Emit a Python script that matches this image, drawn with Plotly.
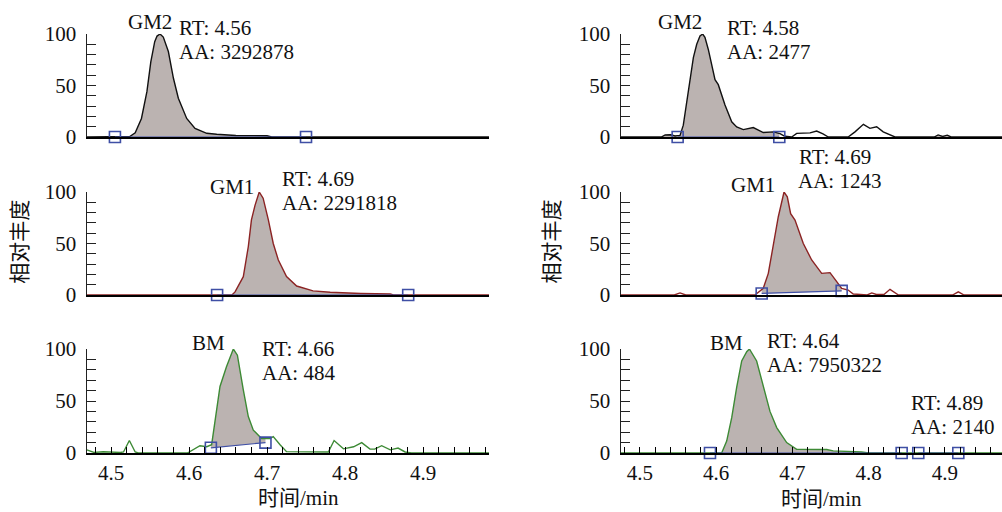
import numpy as np
import plotly.graph_objects as go

W, H = 1002, 512

# ---------------- data (x: retention time / min, y: relative abundance %) ----------------
# Left column
lt_x = [4.469, 4.52, 4.524, 4.531, 4.539, 4.546, 4.551, 4.556, 4.559, 4.5628, 4.567, 4.5735, 4.580,
        4.5863, 4.597, 4.6077, 4.6227, 4.6355, 4.66, 4.70, 4.706, 4.985]
lt_y = [0, 0, 0.5, 4, 18, 44, 73, 92.5, 98, 100, 97, 83, 57, 37.6, 18, 8.4, 3.6, 2.6, 1.5, 1.2, 0, 0]
lt_mx = [4.505, 4.75]
lt_my = [0, 0]

lm_x = [4.469, 4.655, 4.659, 4.6696, 4.676, 4.680, 4.6846, 4.690, 4.695, 4.7017, 4.708, 4.7145,
        4.725, 4.738, 4.759, 4.781, 4.82, 4.858, 4.862, 4.985]
lm_y = [0, 0, 3, 17.8, 47, 73, 87, 100, 94, 73, 50, 34, 18, 8.7, 4, 2.6, 1.5, 1, 0, 0]
lm_mx = [4.636, 4.881]
lm_my = [0, 0]

lb_x = [4.469, 4.474, 4.478, 4.49, 4.50, 4.512, 4.516, 4.5235, 4.531, 4.535, 4.598, 4.605, 4.614,
        4.6227, 4.629, 4.6397, 4.648, 4.6568, 4.662, 4.6696, 4.676, 4.6824, 4.693, 4.7038, 4.708,
        4.7167, 4.725, 4.7786, 4.786, 4.798, 4.811, 4.8214, 4.832, 4.838, 4.847, 4.858, 4.868,
        4.877, 4.885, 4.985]
lb_y = [3, 2, 0.6, 1.2, 0.8, 0.5, 1, 12, 1, 0, 0, 3, 7, 6, 8, 64, 83, 100, 94, 60.6, 35, 22, 14,
        14, 15.7, 8, 1.3, 1, 12, 4, 6, 10, 3.7, 3.7, 7, 3, 4.7, 1, 0, 0]
lb_mx = [4.628, 4.698]
lb_my = [5, 10]

# Right column
rt_x = [4.4747, 4.528, 4.533, 4.540, 4.546, 4.549, 4.5525, 4.5568, 4.5634, 4.570, 4.5744, 4.5787,
        4.5822, 4.5852, 4.5896, 4.5984, 4.6027, 4.6115, 4.6203, 4.6268, 4.6355, 4.6486, 4.6617,
        4.675, 4.6836, 4.690, 4.6990, 4.7055, 4.723, 4.7317, 4.74, 4.747, 4.773, 4.782, 4.793,
        4.8016, 4.8104, 4.819, 4.8344, 4.886, 4.891, 4.897, 4.903, 4.908, 4.913, 4.9748]
rt_y = [0, 0, 2, 2.2, 1, 1.5, 1.6, 11.5, 44, 77, 90, 98, 100, 96.7, 85, 55.7, 50.8, 31, 14.8, 9.8,
        7.2, 9.2, 4.3, 5, 3.3, 0.7, 0, 3.5, 4, 5.8, 3, 0, 0, 5, 12.3, 8.4, 10, 5, 0, 0, 2, 0.5, 1.8,
        0, 0, 0]
rt_mx = [4.5494, 4.6827]
rt_my = [0, 0]
rt_minor_fills = [(4.528, 4.548), (4.886, 4.913)]

rm_x = [4.4747, 4.545, 4.5525, 4.560, 4.6508, 4.6617, 4.6683, 4.6748, 4.6814, 4.6889, 4.6932,
        4.6976, 4.7033, 4.7142, 4.7252, 4.7383, 4.7492, 4.758, 4.7645, 4.773, 4.7797, 4.798, 4.804,
        4.81, 4.82, 4.8279, 4.839, 4.91, 4.9175, 4.925, 4.9748]
rm_y = [0, 0, 2, 0, 0, 6.5, 21, 50, 76, 100, 95.4, 79, 72.8, 50, 34, 21, 21.7, 13, 6.5, 4.8, 1, 0,
        2, 0.5, 0.5, 5.5, 0, 0, 3, 0, 0]
rm_mx = [4.6596, 4.7645]
rm_my = [1.5, 4]

rb_x = [4.4747, 4.6071, 4.6137, 4.6203, 4.6268, 4.6334, 4.640, 4.6435, 4.653, 4.6617, 4.6705,
        4.6793, 4.6924, 4.7055, 4.7449, 4.7535, 4.7907, 4.80, 4.9748]
rb_y = [0, 0, 11.5, 34, 63, 88.5, 97.4, 100, 88.5, 63, 40, 24.4, 10, 3.5, 3.4, 2, 1, 0, 0]
rb_mx = [4.5918, 4.8432, 4.865, 4.9175]
rb_my = [0, 0, 0, 0]

x_tick_labels = ["4.5", "4.6", "4.7", "4.8", "4.9"]
y_tick_labels = ["0", "50", "100"]

# ---------------- styling ----------------
FONT = "Liberation Serif, Noto Sans CJK SC, serif"
FILL = "#bbb3b1"
BLUE = "#3f4fa5"
COLORS = {"GM2": "#111111", "GM1": "#8b2323", "BM": "#3d8a35"}
FS = 21

# pixel layout: columns (left px, right px, x-range), rows (px of 100, px of 0)
cols = [dict(l=86.7, r=489.0, rng=[4.4688, 4.9846]),
        dict(l=620.7, r=1002.0, rng=[4.4747, 4.9748])]
rows = [(34, 137), (192, 295), (349, 453)]

panels = [
    dict(c=0, r=0, name="GM2", x=lt_x, y=lt_y, mx=lt_mx, my=lt_my, extra=[]),
    dict(c=0, r=1, name="GM1", x=lm_x, y=lm_y, mx=lm_mx, my=lm_my, extra=[]),
    dict(c=0, r=2, name="BM", x=lb_x, y=lb_y, mx=lb_mx, my=lb_my, extra=[]),
    dict(c=1, r=0, name="GM2", x=rt_x, y=rt_y, mx=rt_mx, my=rt_my, extra=rt_minor_fills),
    dict(c=1, r=1, name="GM1", x=rm_x, y=rm_y, mx=rm_mx, my=rm_my, extra=[]),
    dict(c=1, r=2, name="BM", x=rb_x, y=rb_y, mx=rb_mx, my=rb_my, extra=[]),
]


def region_polygon(x, y, x0, x1, b0, b1):
    x = np.asarray(x, float)
    y = np.asarray(y, float)
    inside = (x > x0) & (x < x1)
    px = [x0] + list(x[inside]) + [x1, x1, x0]
    py = [float(np.interp(x0, x, y))] + list(y[inside]) + [float(np.interp(x1, x, y)), b1, b0]
    return px, py


fig = go.Figure()
layout = {}
for i, p in enumerate(panels, start=1):
    sfx = "" if i == 1 else str(i)
    xa, ya = "x" + sfx, "y" + sfx
    col = cols[p["c"]]
    top, bot = rows[p["r"]]
    bottom_row = p["r"] == 2
    color = COLORS[p["name"]]

    for k in range(0, len(p["mx"]) - 1, 2):
        fx, fy = region_polygon(p["x"], p["y"], p["mx"][k], p["mx"][k + 1], p["my"][k], p["my"][k + 1])
        fig.add_trace(go.Scatter(x=fx, y=fy, xaxis=xa, yaxis=ya, mode="lines", fill="toself",
                                 fillcolor=FILL, line=dict(width=0), hoverinfo="skip",
                                 showlegend=False, cliponaxis=False))
    for (e0, e1) in p["extra"]:
        fx, fy = region_polygon(p["x"], p["y"], e0, e1, 0, 0)
        fig.add_trace(go.Scatter(x=fx, y=fy, xaxis=xa, yaxis=ya, mode="lines", fill="toself",
                                 fillcolor=FILL, line=dict(width=0), hoverinfo="skip",
                                 showlegend=False, cliponaxis=False))
    fig.add_trace(go.Scatter(x=p["x"], y=p["y"], xaxis=xa, yaxis=ya, mode="lines",
                             line=dict(color=color, width=1.4), showlegend=False, cliponaxis=False))
    bx, by = [], []
    for k in range(0, len(p["mx"]) - 1, 2):
        bx += [p["mx"][k], p["mx"][k + 1], None]
        by += [p["my"][k], p["my"][k + 1], None]
    fig.add_trace(go.Scatter(x=bx, y=by, xaxis=xa, yaxis=ya, mode="lines",
                             line=dict(color=BLUE, width=1.2), showlegend=False, cliponaxis=False))
    fig.add_trace(go.Scatter(x=p["mx"], y=p["my"], xaxis=xa, yaxis=ya, mode="markers",
                             marker=dict(symbol="square-open", size=11, color=BLUE,
                                         line=dict(width=1.6, color=BLUE)),
                             showlegend=False, cliponaxis=False))

    xt = [round(v, 2) for v in np.arange(4.48, 4.985, 0.02)]
    xtext = [f"{v:.1f}" if f"{v:.2f}".endswith("0") and f"{v:.1f}" in x_tick_labels else "" for v in xt]
    layout["xaxis" + sfx] = dict(
        domain=[col["l"] / W, col["r"] / W], range=col["rng"], anchor=ya,
        showline=True, linecolor="black", linewidth=2, showgrid=False, zeroline=False,
        ticks="inside" if bottom_row else "", ticklen=6, tickwidth=1.2, tickcolor="black",
        tickvals=xt if bottom_row else [], ticktext=xtext if bottom_row else [],
        showticklabels=bottom_row, tickfont=dict(family=FONT, size=FS, color="#111"),
        automargin=False, fixedrange=True)
    yt = list(range(0, 101, 10))
    layout["yaxis" + sfx] = dict(
        domain=[1 - bot / H, 1 - top / H], range=[0, 100], anchor=xa,
        showline=True, linecolor="#222", linewidth=1.3, showgrid=False, zeroline=False,
        ticks="inside", ticklen=9, tickwidth=1.2, tickcolor="#222",
        tickvals=yt, ticktext=[str(v) if str(v) in y_tick_labels else "" for v in yt],
        tickfont=dict(family=FONT, size=FS, color="#111"), ticklabelstandoff=5,
        automargin=False, fixedrange=True)


def ann(text, px, py, xanchor="left", size=FS, angle=0):
    return dict(text=text, x=px / W, y=1 - py / H, xref="paper", yref="paper",
                xanchor=xanchor, yanchor="middle", showarrow=False, textangle=angle,
                font=dict(family=FONT, size=size, color="#111"))


annotations = [
    ann("GM2", 150, 21.7, "center"), ann("RT: 4.56", 176.7, 28), ann("AA: 3292878", 176.7, 52),
    ann("GM1", 232.3, 186.7, "center"), ann("RT: 4.69", 280, 178.9), ann("AA: 2291818", 280, 202.9),
    ann("BM", 208.3, 342.7, "center"), ann("RT: 4.66", 260, 348.5), ann("AA: 484", 260, 372.5),
    ann("GM2", 680, 21.7, "center"), ann("RT: 4.58", 725, 27.7), ann("AA: 2477", 725, 51.7),
    ann("GM1", 753.3, 185, "center"), ann("RT: 4.69", 796.7, 156.7), ann("AA: 1243", 796, 180.7),
    ann("BM", 726.7, 342.7, "center"), ann("RT: 4.64", 765, 341.4), ann("AA: 7950322", 765, 365.4),
    ann("RT: 4.89", 909.3, 403), ann("AA: 2140", 909.3, 427),
    ann("时间/min", 298.3, 497.5, "center", 21), ann("时间/min", 821.7, 498.5, "center", 21),
    ann("相对丰度", 20, 241.7, "center", 21, -90), ann("相对丰度", 551.7, 241.7, "center", 21, -90),
]

fig.update_layout(width=W, height=H, margin=dict(l=0, r=0, t=0, b=0, pad=0, autoexpand=False),
                  paper_bgcolor="white", plot_bgcolor="white",
                  annotations=annotations, **layout)

fig.write_html("out.html", config={"displayModeBar": False},
               post_script="document.body.style.margin='0px';document.body.style.overflow='hidden';")
